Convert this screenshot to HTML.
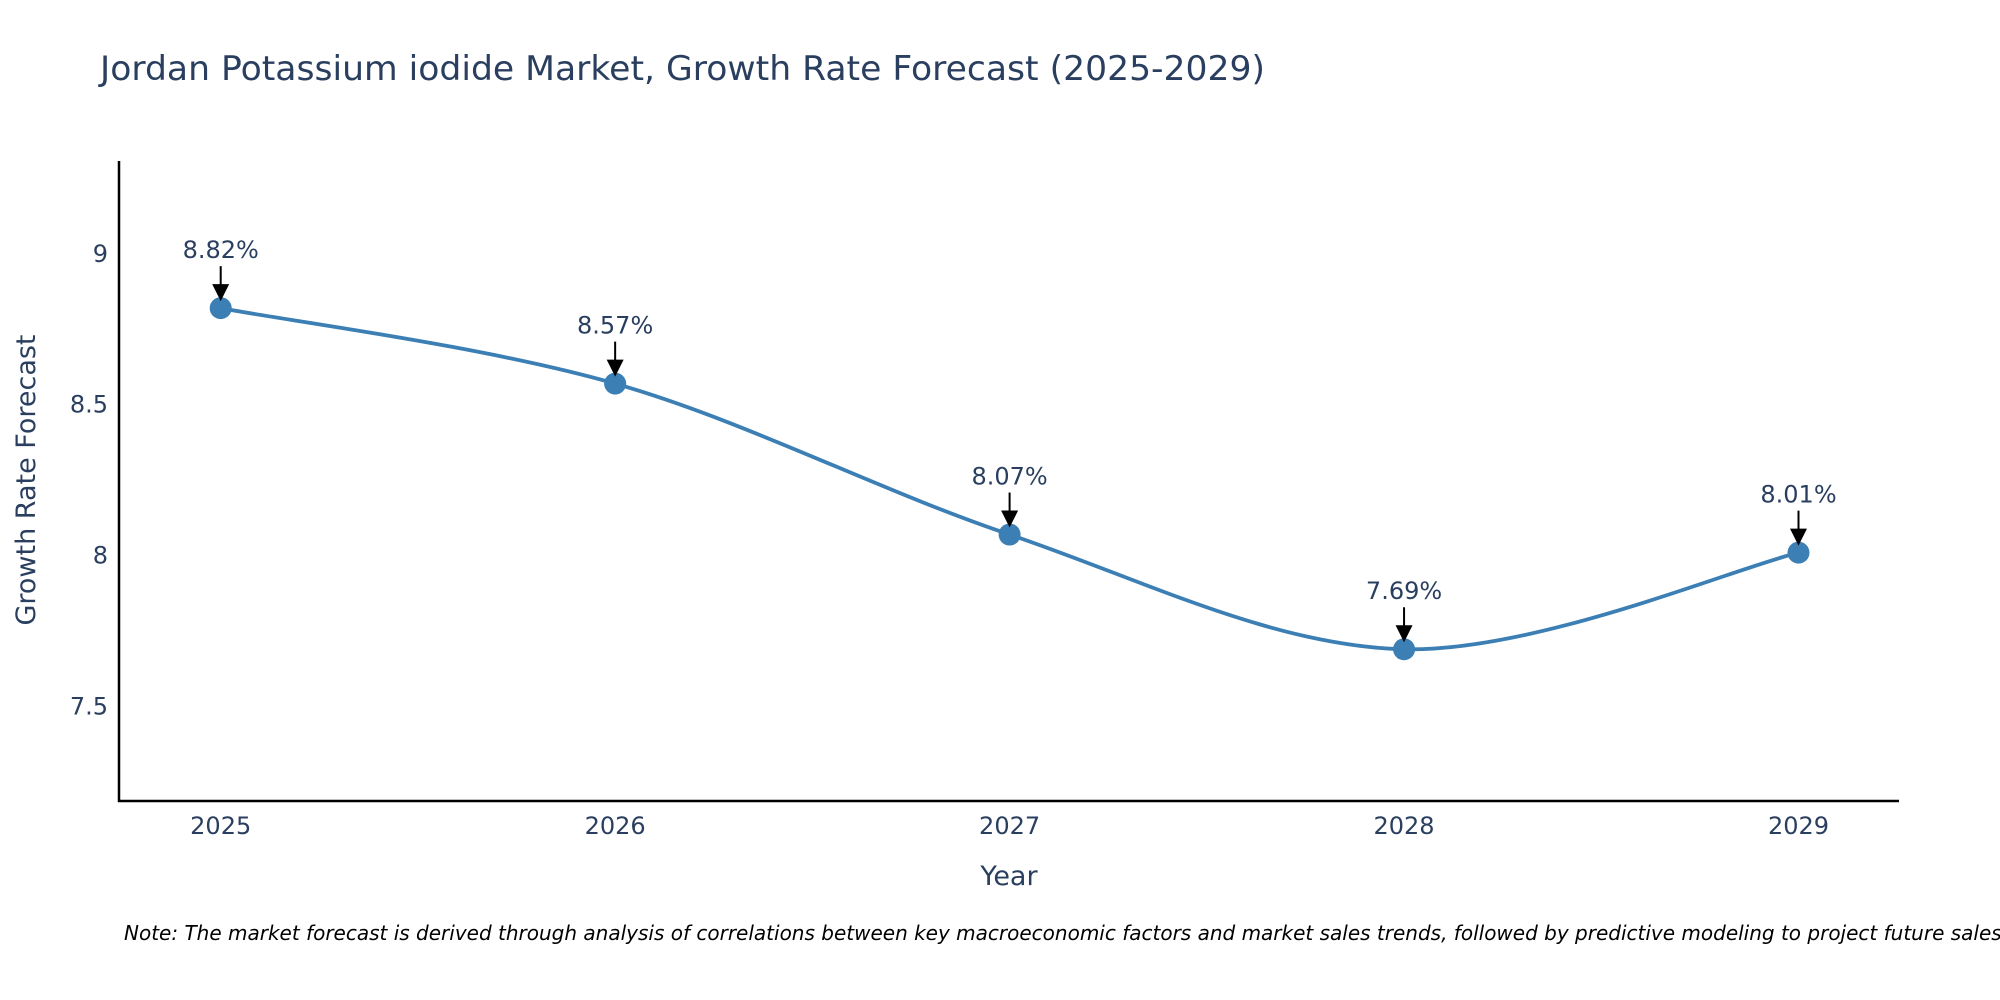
<!DOCTYPE html>
<html><head><meta charset="utf-8"><style>
body{margin:0;background:#fff}
svg{display:block;font-family:"DejaVu Sans","Liberation Sans",sans-serif}
</style></head><body>
<svg id="chart" width="2000" height="1000" viewBox="0 0 2000 1000">
<rect width="2000" height="1000" fill="#fff"/>
<text x="100" y="80" font-size="34" fill="#2a3f5f" textLength="1165" lengthAdjust="spacingAndGlyphs">Jordan Potassium iodide Market, Growth Rate Forecast (2025-2029)</text>
<g id="yticks"></g><g id="xticks"></g>
<path id="line" fill="none" stroke="#3c7fb5" stroke-width="3.8"/>
<g id="points"></g><g id="annots"></g>
<line x1="119" y1="161" x2="119" y2="802" stroke="#000" stroke-width="2.5"/>
<line x1="118" y1="801" x2="1899" y2="801" stroke="#000" stroke-width="2.5"/>
<text x="1009" y="885" font-size="27" fill="#2a3f5f" text-anchor="middle">Year</text>
<text transform="translate(35,480) rotate(-90)" font-size="27" fill="#2a3f5f" text-anchor="middle">Growth Rate Forecast</text>
<text x="124" y="940" font-size="20" font-style="italic" fill="#000">Note: The market forecast is derived through analysis of correlations between key macroeconomic factors and market sales trends, followed by predictive modeling to project future sales</text>
</svg>
<script>
const years=[2025,2026,2027,2028,2029];
const values=[8.82,8.57,8.07,7.69,8.01];
const labels=["8.82%","8.57%","8.07%","7.69%","8.01%"];
const yTicks=[7.5,8,8.5,9];
const NS="http://www.w3.org/2000/svg";
const X=v=>220.7+(v-2025)*(1798.5-220.7)/4;
const Y=v=>253.8+(9-v)*(706.6-253.8)/1.5;
function mk(tag,attrs,parent){const e=document.createElementNS(NS,tag);for(const k in attrs)e.setAttribute(k,attrs[k]);parent.appendChild(e);return e;}
const yt=document.getElementById('yticks'),xt=document.getElementById('xticks');
yTicks.forEach(t=>{const e=mk('text',{x:108,y:Y(t)+8,'font-size':24,fill:'#2a3f5f','text-anchor':'end'},yt);


e.textContent=String(t);});
years.forEach(t=>{const e=mk('text',{x:X(t),y:834,'font-size':24,fill:'#2a3f5f','text-anchor':'middle'},xt);


e.textContent=String(t);});
const P=years.map((y,i)=>[X(y),Y(values[i])]);
let d=`M${P[0][0]},${P[0][1]}`;const s=1/6;
for(let i=0;i<P.length-1;i++){const p0=P[Math.max(0,i-1)],p1=P[i],p2=P[i+1],p3=P[Math.min(P.length-1,i+2)];
const c1=[p1[0]+(p2[0]-p0[0])*s,p1[1]+(p2[1]-p0[1])*s],c2=[p2[0]-(p3[0]-p1[0])*s,p2[1]-(p3[1]-p1[1])*s];
d+=` C${c1[0]},${c1[1]} ${c2[0]},${c2[1]} ${p2[0]},${p2[1]}`;}
document.getElementById('line').setAttribute('d',d);
const pg=document.getElementById('points'),ag=document.getElementById('annots');
P.forEach((p,i)=>{const c=mk('circle',{cx:p[0],cy:p[1],r:11,fill:'#3c7fb5'},pg);


const l=mk('line',{x1:p[0],y1:p[1]-42,x2:p[0],y2:p[1]-20,stroke:'#000','stroke-width':2},ag);


const h=mk('path',{d:`M${p[0]-8.5},${p[1]-24} L${p[0]+8.5},${p[1]-24} L${p[0]},${p[1]-7} Z`,fill:'#000'},ag);


const t=mk('text',{x:p[0],y:p[1]-50,'font-size':24,fill:'#2a3f5f','text-anchor':'middle'},ag);


t.textContent=labels[i];});
</script>
</body></html>
